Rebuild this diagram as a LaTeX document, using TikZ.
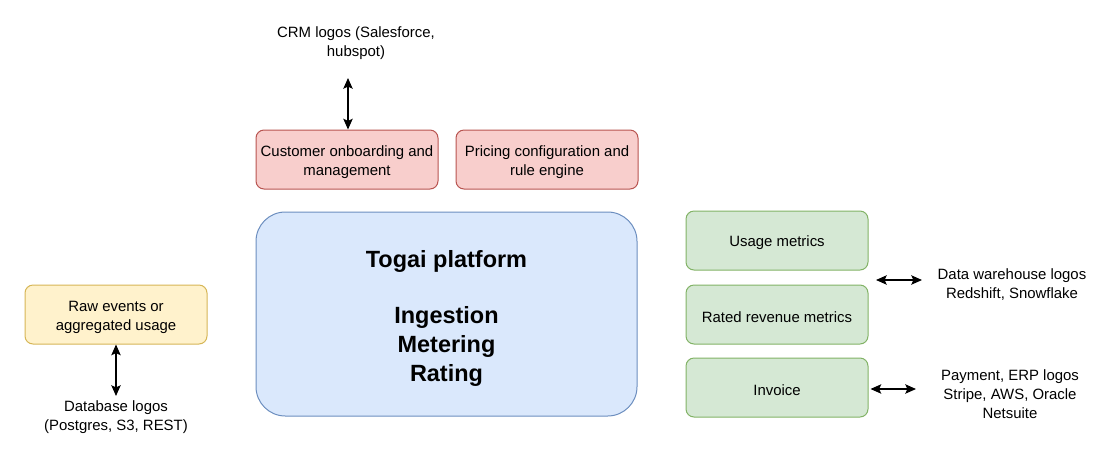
\documentclass[tikz,border=0pt]{standalone}
\usepackage{fontspec}
\setmainfont{Liberation Sans}
\usetikzlibrary{positioning,calc,arrows.meta}
\definecolor{RedFill}{HTML}{F8CECC}
\definecolor{RedLine}{HTML}{B85450}
\definecolor{BlueFill}{HTML}{DAE8FC}
\definecolor{BlueLine}{HTML}{6C8EBF}
\definecolor{YellowFill}{HTML}{FFF2CC}
\definecolor{YellowLine}{HTML}{D6B656}
\definecolor{GreenFill}{HTML}{D5E8D4}
\definecolor{GreenLine}{HTML}{82B366}
\newcommand{\topstrut}{\rule{0pt}{11.5pt}}
\tikzset{
  box/.style={rounded corners=6pt,line width=0.75pt,minimum width=136.5pt,minimum height=44.25pt,
    align=center,font=\fontsize{11.2}{14.25}\selectfont,inner sep=1pt},
  redbox/.style={box,fill=RedFill,draw=RedLine},
  greenbox/.style={box,fill=GreenFill,draw=GreenLine},
  yellowbox/.style={box,fill=YellowFill,draw=YellowLine},
  label/.style={align=center,font=\fontsize{11.2}{14.25}\selectfont,inner sep=1pt},
  link/.style={{Stealth[length=8pt,width=7pt,inset=1.5pt]}-{Stealth[length=8pt,width=7pt,inset=1.5pt]},line width=1.1pt}
}
\begin{document}
\begin{tikzpicture}[x=0.75pt,y=-0.75pt]
        \useasboundingbox (0,0) rectangle (1114,469);

        % Top row
        \node[redbox] (cust) at (347,159.5) {\topstrut Customer onboarding and\\management};
        \node[redbox] (pricing) at (547,159.5) {\topstrut Pricing configuration and\\rule engine};
        \node[label] (crm) at (356,43.5) {CRM logos (Salesforce,\\hubspot)};
        \coordinate (crmend) at (348,78);
        \draw[link] (crmend) -- (cust.north -| crmend);

        % Platform
        \node[rounded corners=22pt,line width=0.75pt,fill=BlueFill,draw=BlueLine,
          minimum width=285.75pt,minimum height=153pt,align=center,
          font=\fontsize{17.6}{21.75}\selectfont\bfseries] (togai) at (446.5,314)
          {\rule{0pt}{19pt}Togai platform\\[20.25pt]Ingestion\\Metering\\Rating};

        % Input
        \node[yellowbox] (raw) at (116,314.5) {\rule{0pt}{12.5pt}Raw events or\\aggregated usage};
        \node[label] (db) at (116,417.5) {Database logos\\(Postgres, S3, REST)};
        \coordinate (dbend) at (116,396);
        \draw[link] (raw.south) -- (dbend);

        % Outputs
        \node[greenbox] (usage) at (777,240.5) {\topstrut Usage metrics};
        \node[greenbox] (rated) at (777,314.5) {\topstrut Rated revenue metrics};
        \node[greenbox] (invoice) at (777,387.5) {\topstrut Invoice};
        \node[label] (dw) at (1012,284.5) {Data warehouse logos\\Redshift, Snowflake};
        \node[label] (pay) at (1010,394.5) {Payment, ERP logos\\Stripe, AWS, Oracle\\Netsuite};
        \coordinate (dwa) at (876,280);
        \coordinate (dwb) at (922,280);
        \draw[link] (dwa) -- (dwb);
        \coordinate (payend) at (916,389);
        \draw[link] ([xshift=1.5pt]invoice.east |- payend) -- (payend);
      \end{tikzpicture}
\end{document}
